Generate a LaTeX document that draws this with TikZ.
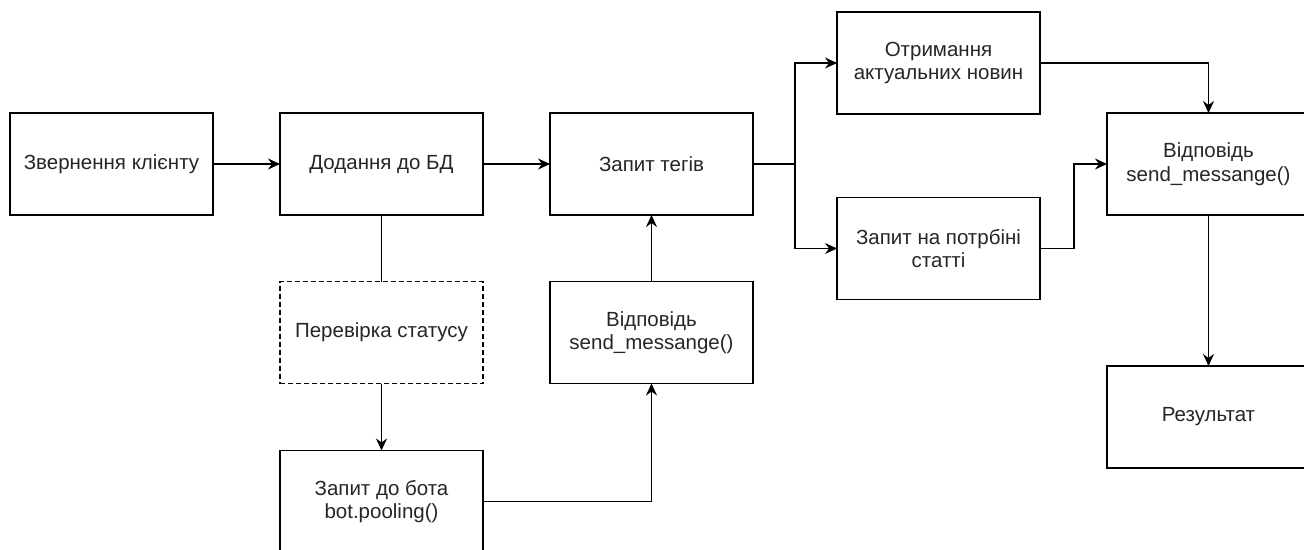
\documentclass[tikz,border=0pt]{standalone}
\usepackage{fontspec}
\setmainfont{Liberation Sans}
\usetikzlibrary{arrows.meta}
\begin{document}
\begin{tikzpicture}[x=1pt,y=-1pt,
  box/.style={draw=black, line width=1.5pt, rectangle, minimum width=203pt, minimum height=102pt,
    inner sep=0pt, outer sep=0pt, align=center, font=\fontsize{20.5}{23.5}\selectfont, text=black!85},
  dbox/.style={box, dash pattern=on 5pt off 3pt},
  conn/.style={line width=1.6pt, draw=black},
  arr/.style={conn, -{Stealth[length=12pt,width=11pt,inset=4pt]}}]
\useasboundingbox (0,0) rectangle (1304,549);
\clip (0,0) rectangle (1304,549);
\fill[white] (0,0) rectangle (1304,549);
\node[box] (b1) at (111.5,164) {Звернення клієнту};
\node[box] (b2) at (381.5,164) {Додання до БД};
\node[box] (b3) at (651.5,164) {Запит тегів};
\node[box] (b4) at (938.5,63) {Отримання\\актуальних новин};
\node[box] (b5) at (938.5,248.5) {Запит на потрбіні\\статті};
\node[box] (b6) at (1208.5,164) {Відповідь\\send\_messange()};
\node[dbox] (b7) at (381.5,332.5) {Перевірка статусу};
\node[box] (b8) at (651.5,332.5) {Відповідь\\send\_messange()};
\node[box] (b9) at (381.5,501.5) {Запит до бота\\bot.pooling()};
\node[box] (b10) at (1208.5,417) {Результат};
\coordinate (split) at (795,164);
\coordinate (join) at (1074,248.5);
\draw[arr] (b1) -- (b2);
\draw[arr] (b2) -- (b3);
\draw[conn] (b3.east) -- (split);
\draw[arr] (split) |- (b4.west);
\draw[arr] (split) |- (b5.west);
\draw[arr] (b4.east) -| (b6.north);
\draw[arr] (b5.east) -- (join) |- (b6.west);
\draw[arr] (b6) -- (b10);
\draw[conn] (b2) -- (b7);
\draw[arr] (b7) -- (b9);
\draw[arr] (b9.east) -| (b8.south);
\draw[arr] (b8) -- (b3);
\end{tikzpicture}
\end{document}
